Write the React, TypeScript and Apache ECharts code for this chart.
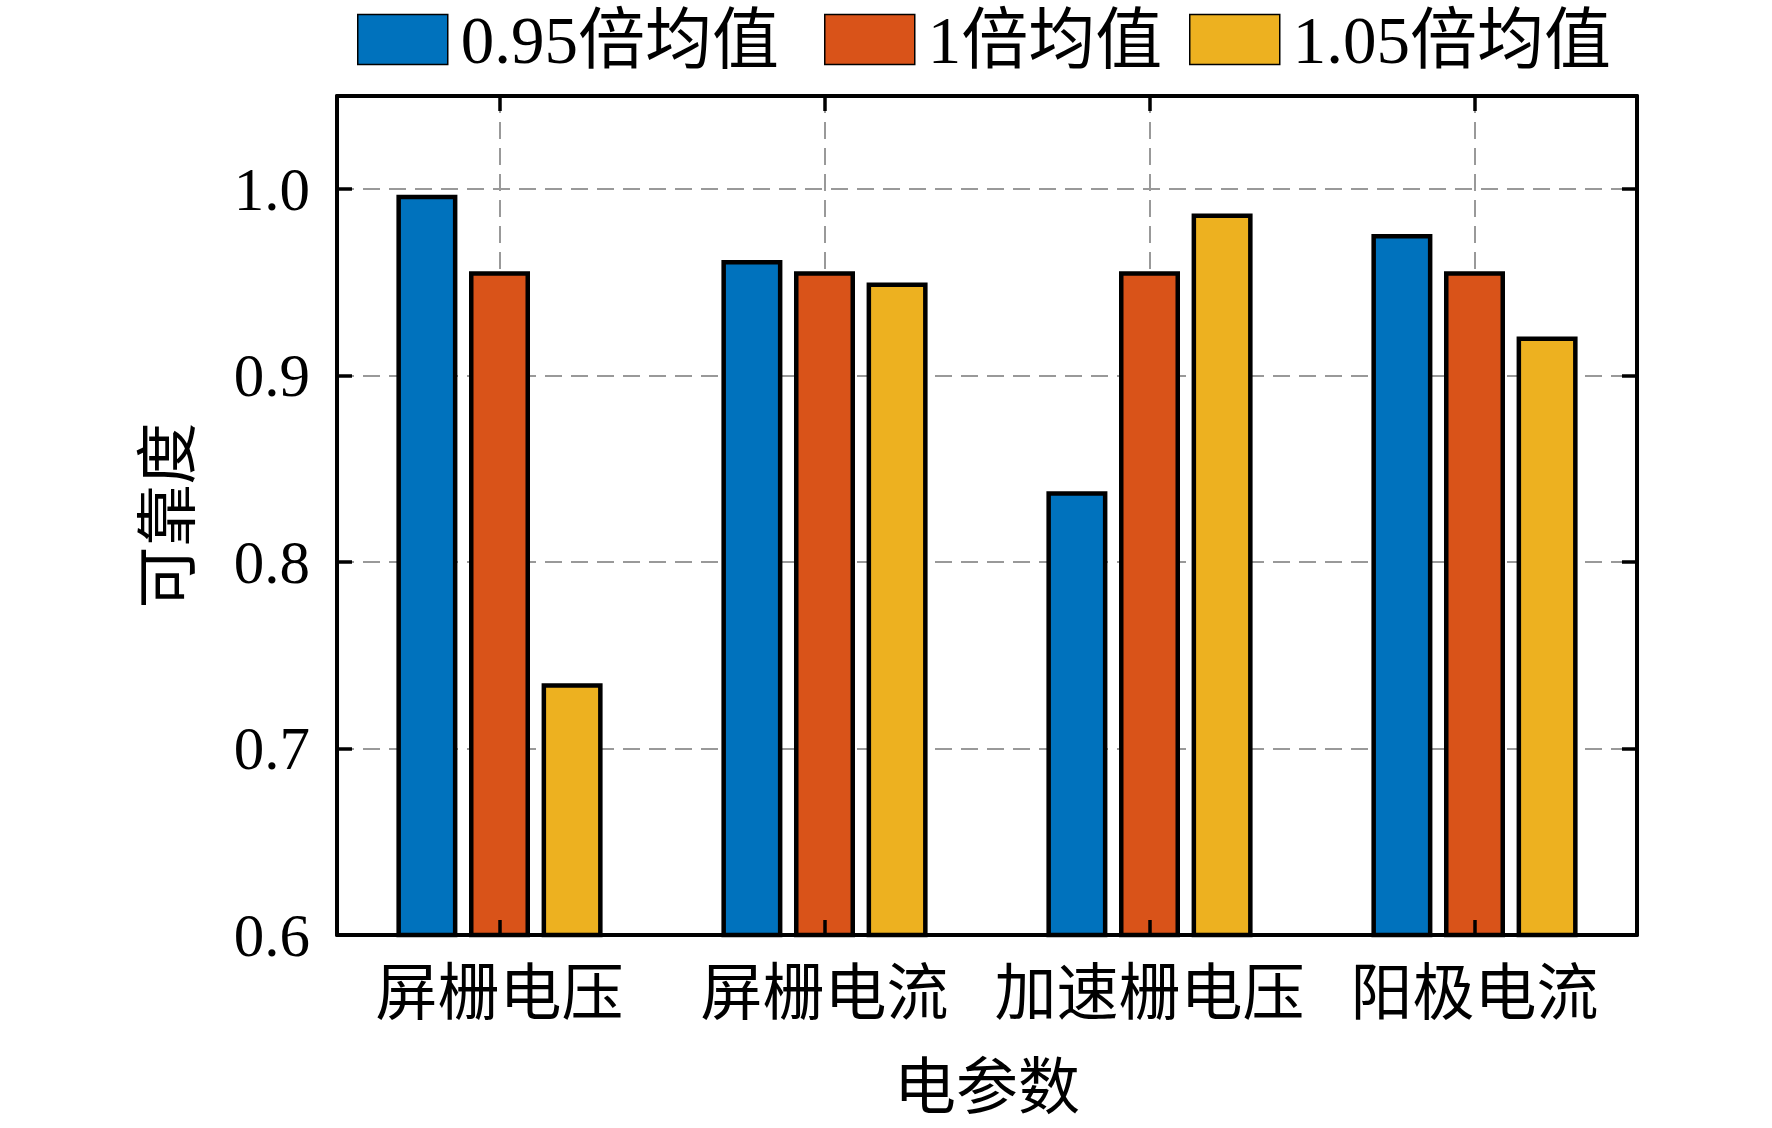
import React, { useEffect, useRef } from "react";
import * as echarts from "echarts";

const categories = ["屏栅电压", "屏栅电流", "加速栅电压", "阳极电流"];
const seriesNames = ["0.95倍均值", "1倍均值", "1.05倍均值"];
const values095 = [0.997, 0.962, 0.838, 0.976];
const values100 = [0.956, 0.956, 0.956, 0.956];
const values105 = [0.735, 0.950, 0.987, 0.921];
const colors = ["#0072BD", "#D95319", "#EDB120"];
const yTicks = { min: 0.6, max: 1.05, interval: 0.1 };
const legendLefts = [357, 824, 1189];

const FONT = "'Liberation Serif', 'Times New Roman', 'Noto Sans CJK SC', serif";

export default function App() {
  const ref = useRef<HTMLDivElement>(null);
  useEffect(() => {
    if (!ref.current) return;
    const chart = echarts.init(ref.current, undefined, { renderer: "svg" });
    const frameLine = { show: true, lineStyle: { color: "#000", width: 4 } };
    const innerTick = { show: true, inside: true, interval: 0, length: 15, alignWithLabel: true, lineStyle: { color: "#000", width: 3.5 } };
    const gridLine = { show: true, interval: 0, alignWithLabel: true, lineStyle: { color: "#999", width: 2, type: [17, 9] } };
    const allValues = [values095, values100, values105];
    chart.setOption({
      animation: false,
      backgroundColor: "#fff",
      textStyle: { fontFamily: FONT },
      legend: seriesNames.map((name, i) => ({
        data: [name],
        left: legendLefts[i],
        top: 6,
        padding: 0,
        itemWidth: 90,
        itemHeight: 50,
        icon: "rect",
        itemStyle: { borderColor: "#000", borderWidth: 1.5 },
        textStyle: { fontFamily: FONT, fontSize: 67, lineHeight: 56, color: "#000", padding: [0, 0, 0, 8] },
      })),
      grid: { left: 337, right: 135, top: 96, bottom: 193, containLabel: false },
      xAxis: [
        {
          type: "category",
          data: categories,
          position: "bottom",
          z: 0,
          axisLine: { show: false },
          axisTick: { show: false },
          axisLabel: { interval: 0, fontFamily: FONT, fontSize: 62, color: "#000", margin: 28 },
          splitLine: gridLine,
          name: "电参数",
          nameLocation: "middle",
          nameGap: 122,
          nameTextStyle: { fontFamily: FONT, fontSize: 62, color: "#000" },
        },
        {
          type: "category",
          data: categories,
          position: "bottom",
          z: 10,
          axisLine: frameLine,
          axisTick: innerTick,
          axisLabel: { show: false },
          splitLine: { show: false },
        },
        {
          type: "category",
          data: categories,
          position: "top",
          z: 10,
          axisLine: frameLine,
          axisTick: innerTick,
          axisLabel: { show: false },
          splitLine: { show: false },
        },
      ],
      yAxis: [
        {
          type: "value",
          position: "left",
          min: yTicks.min,
          max: yTicks.max,
          interval: yTicks.interval,
          z: 0,
          axisLine: frameLine,
          axisTick: { show: true, inside: true, length: 15, lineStyle: { color: "#000", width: 3.5 } },
          axisLabel: {
            fontFamily: FONT,
            fontSize: 61,
            color: "#000",
            margin: 27,
            formatter: (v: number) => (v > 1.001 ? "" : v.toFixed(1)),
          },
          splitLine: { show: true, lineStyle: { color: "#999", width: 2, type: [17, 9] } },
          name: "可靠度",
          nameLocation: "middle",
          nameRotate: 90,
          nameGap: 137,
          nameTextStyle: { fontFamily: FONT, fontSize: 62, color: "#000" },
        },
        {
          type: "value",
          position: "right",
          min: yTicks.min,
          max: yTicks.max,
          interval: yTicks.interval,
          z: 10,
          axisLine: frameLine,
          axisTick: { show: true, inside: true, length: 15, lineStyle: { color: "#000", width: 3.5 } },
          axisLabel: { show: false },
          splitLine: { show: false },
        },
      ],
      series: seriesNames.map((name, i) => ({
        name,
        type: "bar",
        xAxisIndex: 0,
        yAxisIndex: 0,
        data: allValues[i],
        barWidth: 61,
        barGap: "19%",
        z: 2,
        itemStyle: { color: colors[i], borderColor: "#000", borderWidth: 4.5 },
      })),
    });
    return () => chart.dispose();
  }, []);
  return (
    <div
      ref={ref}
      style={{ position: "fixed", left: 0, top: 0, width: 1772, height: 1128 }}
    />
  );
}
